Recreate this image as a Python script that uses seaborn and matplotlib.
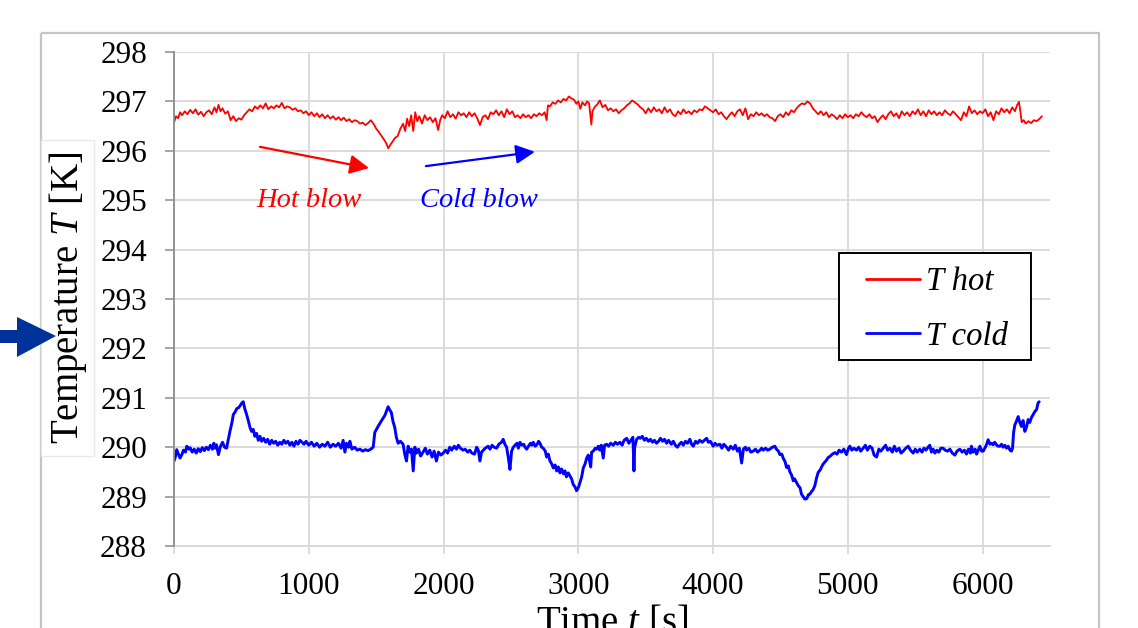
import matplotlib
matplotlib.use("Agg")
import matplotlib.pyplot as plt
import matplotlib.transforms as mtransforms
from matplotlib.patches import Rectangle, Polygon
from matplotlib.font_manager import FontProperties
import numpy as np
import pandas as pd
import seaborn as sns

# ---------------------------------------------------------------- data
hot_time = [
    0, 15, 30, 45, 60, 80, 100, 120, 140, 160, 180, 200, 220, 240, 260, 280, 300, 315, 330, 345,
    360, 380, 400, 420, 440, 460, 480, 500, 520, 540, 560, 580, 600, 620, 640, 660, 680, 700, 720, 740,
    760, 780, 800, 820, 840, 860, 880, 900, 920, 940, 960, 980, 1000, 1020, 1040, 1060, 1080, 1100, 1120, 1140,
    1160, 1180, 1200, 1220, 1240, 1260, 1280, 1300, 1320, 1340, 1360, 1380, 1400, 1420, 1440, 1460, 1480, 1500, 1520, 1540,
    1560, 1575, 1590, 1605, 1620, 1640, 1660, 1680, 1700, 1715, 1730, 1745, 1760, 1775, 1790, 1805, 1820, 1840, 1860, 1880,
    1900, 1920, 1940, 1960, 1975, 1990, 2010, 2030, 2050, 2070, 2090, 2110, 2130, 2150, 2170, 2190, 2210, 2230, 2250, 2270,
    2290, 2310, 2330, 2350, 2370, 2390, 2410, 2430, 2450, 2470, 2490, 2510, 2530, 2550, 2570, 2590, 2610, 2630, 2650, 2670,
    2690, 2710, 2730, 2750, 2765, 2775, 2790, 2810, 2830, 2850, 2870, 2890, 2910, 2930, 2950, 2970, 2985, 3000, 3015, 3030,
    3050, 3065, 3080, 3090, 3097, 3105, 3120, 3140, 3160, 3180, 3200, 3220, 3240, 3260, 3280, 3300, 3320, 3340, 3360, 3380,
    3400, 3420, 3440, 3460, 3480, 3500, 3520, 3540, 3560, 3580, 3600, 3620, 3640, 3660, 3680, 3700, 3720, 3740, 3760, 3780,
    3800, 3820, 3840, 3860, 3880, 3900, 3920, 3940, 3960, 3980, 4000, 4020, 4040, 4060, 4080, 4100, 4120, 4140, 4160, 4180,
    4200, 4220, 4240, 4260, 4280, 4300, 4320, 4340, 4360, 4380, 4400, 4420, 4440, 4460, 4480, 4500, 4520, 4540, 4560, 4580,
    4600, 4620, 4640, 4660, 4680, 4700, 4720, 4740, 4760, 4780, 4800, 4820, 4840, 4860, 4880, 4900, 4920, 4940, 4960, 4980,
    5000, 5020, 5040, 5060, 5080, 5100, 5120, 5140, 5160, 5180, 5200, 5220, 5240, 5260, 5280, 5300, 5320, 5340, 5360, 5380,
    5400, 5420, 5440, 5460, 5480, 5500, 5520, 5540, 5560, 5580, 5600, 5620, 5640, 5660, 5680, 5700, 5720, 5740, 5760, 5780,
    5800, 5820, 5840, 5860, 5880, 5900, 5920, 5940, 5960, 5980, 6000, 6020, 6040, 6060, 6080, 6100, 6120, 6140, 6160, 6180,
    6200, 6220, 6240, 6255, 6270, 6280, 6290, 6305, 6320, 6340, 6360, 6380, 6400, 6420, 6440,
]
hot_temp = [
    296.57, 296.70, 296.66, 296.78, 296.72, 296.80, 296.74, 296.83, 296.76, 296.84, 296.73, 296.79, 296.70, 296.78, 296.82, 296.74, 296.88, 296.78, 296.93, 296.80,
    296.86, 296.75, 296.80, 296.62, 296.70, 296.60, 296.66, 296.63, 296.72, 296.78, 296.84, 296.80, 296.90, 296.85, 296.92, 296.86, 296.96, 296.84, 296.90, 296.86,
    296.92, 296.88, 296.97, 296.86, 296.90, 296.88, 296.83, 296.86, 296.80, 296.82, 296.76, 296.80, 296.72, 296.78, 296.70, 296.76, 296.68, 296.74, 296.66, 296.72,
    296.65, 296.70, 296.63, 296.68, 296.62, 296.67, 296.60, 296.64, 296.58, 296.62, 296.60, 296.55, 296.57, 296.52, 296.56, 296.62, 296.55, 296.45, 296.38, 296.30,
    296.22, 296.15, 296.05, 296.12, 296.18, 296.26, 296.30, 296.45, 296.55, 296.40, 296.65, 296.50, 296.72, 296.40, 296.78, 296.60, 296.70, 296.55, 296.72, 296.62,
    296.68, 296.58, 296.66, 296.42, 296.62, 296.72, 296.66, 296.80, 296.68, 296.74, 296.65, 296.78, 296.72, 296.76, 296.68, 296.78, 296.70, 296.76, 296.66, 296.52,
    296.68, 296.72, 296.64, 296.78, 296.74, 296.82, 296.72, 296.80, 296.68, 296.84, 296.74, 296.80, 296.68, 296.72, 296.66, 296.74, 296.68, 296.72, 296.66, 296.74,
    296.70, 296.76, 296.72, 296.78, 296.62, 296.92, 296.90, 296.98, 296.95, 297.02, 296.98, 297.05, 297.02, 297.10, 297.06, 297.03, 296.95, 297.00, 296.85, 296.98,
    296.92, 297.00, 296.96, 296.70, 296.53, 296.80, 296.88, 296.94, 297.02, 296.88, 296.93, 296.82, 296.86, 296.80, 296.84, 296.76, 296.82, 296.86, 296.92, 296.96,
    297.02, 296.98, 296.94, 296.88, 296.84, 296.76, 296.86, 296.78, 296.88, 296.80, 296.84, 296.76, 296.88, 296.78, 296.84, 296.74, 296.70, 296.80, 296.74, 296.84,
    296.76, 296.80, 296.74, 296.82, 296.78, 296.84, 296.82, 296.90, 296.86, 296.82, 296.78, 296.84, 296.74, 296.78, 296.70, 296.64, 296.72, 296.78, 296.70, 296.80,
    296.84, 296.72, 296.86, 296.64, 296.74, 296.70, 296.78, 296.72, 296.76, 296.70, 296.74, 296.68, 296.66, 296.60, 296.70, 296.74, 296.68, 296.78, 296.72, 296.82,
    296.78, 296.86, 296.92, 296.96, 296.94, 297.00, 296.96, 296.86, 296.80, 296.74, 296.80, 296.72, 296.78, 296.68, 296.74, 296.70, 296.64, 296.72, 296.66, 296.74,
    296.68, 296.72, 296.66, 296.74, 296.70, 296.78, 296.72, 296.68, 296.74, 296.66, 296.70, 296.58, 296.66, 296.72, 296.64, 296.74, 296.80, 296.70, 296.76, 296.66,
    296.80, 296.72, 296.78, 296.70, 296.80, 296.74, 296.84, 296.72, 296.80, 296.70, 296.82, 296.74, 296.80, 296.72, 296.78, 296.72, 296.82, 296.76, 296.72, 296.80,
    296.74, 296.68, 296.62, 296.78, 296.70, 296.90, 296.76, 296.82, 296.74, 296.80, 296.76, 296.84, 296.70, 296.78, 296.62, 296.80, 296.74, 296.86, 296.78, 296.84,
    296.76, 296.88, 296.80, 296.92, 296.99, 296.80, 296.58, 296.62, 296.55, 296.60, 296.56, 296.62, 296.60, 296.64, 296.70,
]

cold_time = [
    0, 10, 20, 30, 45, 60, 70, 85, 95, 110, 120, 135, 150, 165, 180, 195, 210, 225, 240, 255,
    270, 285, 295, 305, 315, 330, 345, 360, 375, 390, 400, 415, 430, 440, 455, 465, 480, 495, 505, 514,
    525, 539, 550, 564, 575, 588, 600, 613, 625, 638, 650, 665, 680, 695, 710, 725, 740, 755, 770, 785,
    800, 815, 830, 845, 860, 875, 890, 905, 920, 935, 950, 965, 980, 1000, 1020, 1040, 1060, 1080, 1100, 1120,
    1140, 1160, 1180, 1200, 1220, 1240, 1255, 1268, 1280, 1295, 1305, 1320, 1340, 1360, 1380, 1400, 1420, 1440, 1460, 1478,
    1490, 1510, 1527, 1545, 1564, 1578, 1589, 1600, 1613, 1625, 1638, 1650, 1663, 1680, 1700, 1712, 1725, 1737, 1750, 1762,
    1775, 1787, 1800, 1815, 1830, 1848, 1865, 1880, 1898, 1915, 1930, 1947, 1962, 1980, 1997, 2015, 2030, 2046, 2060, 2080,
    2096, 2110, 2125, 2145, 2160, 2180, 2195, 2210, 2230, 2246, 2258, 2270, 2282, 2295, 2310, 2330, 2345, 2360, 2375, 2394,
    2410, 2430, 2443, 2455, 2468, 2480, 2493, 2505, 2518, 2530, 2545, 2555, 2567, 2580, 2595, 2605, 2617, 2630, 2645, 2655,
    2666, 2680, 2695, 2705, 2716, 2728, 2740, 2755, 2765, 2777, 2790, 2803, 2814, 2828, 2840, 2852, 2864, 2876, 2890, 2901,
    2912, 2925, 2938, 2950, 2963, 2975, 2987, 3000, 3012, 3025, 3037, 3050, 3062, 3074, 3085, 3092, 3099, 3111, 3125, 3136,
    3148, 3160, 3170, 3185, 3195, 3210, 3225, 3240, 3260, 3275, 3290, 3309, 3325, 3340, 3359, 3375, 3390, 3405, 3410, 3413,
    3418, 3433, 3448, 3460, 3475, 3490, 3505, 3520, 3535, 3550, 3565, 3580, 3595, 3610, 3625, 3640, 3655, 3670, 3690, 3705,
    3720, 3735, 3750, 3765, 3779, 3795, 3810, 3828, 3840, 3853, 3870, 3885, 3900, 3920, 3935, 3952, 3965, 3980, 4001, 4015,
    4030, 4051, 4065, 4080, 4100, 4115, 4130, 4150, 4165, 4180, 4195, 4212, 4225, 4240, 4249, 4265, 4280, 4298, 4315, 4330,
    4348, 4360, 4372, 4390, 4405, 4421, 4440, 4458, 4470, 4485, 4496, 4510, 4520, 4535, 4545, 4558, 4570, 4582, 4595, 4605,
    4620, 4632, 4645, 4656, 4668, 4681, 4695, 4708, 4718, 4730, 4742, 4755, 4768, 4780, 4795, 4805, 4817, 4830, 4842, 4854,
    4870, 4885, 4904, 4920, 4935, 4953, 4970, 4990, 5005, 5015, 5030, 5045, 5064, 5080, 5095, 5114, 5130, 5145, 5163, 5180,
    5195, 5213, 5230, 5245, 5262, 5280, 5295, 5312, 5330, 5345, 5361, 5380, 5395, 5411, 5430, 5448, 5465, 5485, 5500, 5515,
    5534, 5550, 5565, 5580, 5595, 5608, 5620, 5633, 5646, 5660, 5675, 5690, 5707, 5722, 5740, 5757, 5775, 5794, 5810, 5831,
    5848, 5865, 5880, 5895, 5910, 5917, 5930, 5945, 5955, 5968, 5980, 5992, 6004, 6020, 6030, 6041, 6055, 6066, 6078, 6090,
    6105, 6116, 6128, 6140, 6152, 6165, 6177, 6190, 6203, 6214, 6222, 6230, 6239, 6250, 6264, 6276, 6288, 6300, 6313, 6325,
    6338, 6350, 6362, 6375, 6387, 6400, 6412, 6420,
]
cold_temp = [
    289.72, 289.80, 289.95, 289.88, 289.78, 289.86, 289.94, 289.90, 290.02, 289.96, 289.99, 289.90, 289.96, 289.88, 289.97, 289.91, 289.99, 289.93, 290.00, 289.95,
    290.04, 289.96, 290.08, 289.98, 290.05, 289.85, 290.02, 290.10, 290.00, 289.98, 290.12, 290.32, 290.50, 290.66, 290.72, 290.78, 290.80, 290.86, 290.90, 290.92,
    290.78, 290.66, 290.55, 290.40, 290.32, 290.36, 290.22, 290.28, 290.14, 290.22, 290.12, 290.18, 290.10, 290.16, 290.06, 290.14, 290.08, 290.12, 290.04, 290.10,
    290.06, 290.14, 290.08, 290.12, 290.04, 290.10, 290.02, 290.12, 290.06, 290.14, 290.10, 290.06, 290.12, 290.04, 290.10, 290.02, 290.08, 290.00, 290.06, 290.02,
    290.10, 290.00, 290.06, 290.02, 290.08, 289.98, 290.14, 289.90, 290.08, 290.00, 290.12, 289.96, 290.00, 289.94, 289.96, 289.92, 289.95, 289.93, 289.96, 290.00,
    290.30, 290.40, 290.48, 290.56, 290.64, 290.74, 290.82, 290.76, 290.70, 290.52, 290.40, 290.20, 290.08, 290.12, 290.06, 289.86, 289.72, 290.02, 289.90, 289.96,
    289.52, 290.00, 289.88, 289.96, 289.82, 289.90, 289.98, 289.86, 289.94, 289.80, 289.92, 289.72, 289.90, 289.84, 289.88, 289.94, 289.88, 290.00, 289.94, 290.02,
    289.96, 290.04, 289.98, 289.94, 289.96, 289.90, 289.94, 289.88, 289.86, 290.00, 289.94, 289.72, 289.90, 289.94, 289.98, 290.02, 289.96, 290.04, 290.00, 289.98,
    290.06, 290.10, 290.16, 290.06, 290.00, 289.80, 289.55, 289.92, 290.00, 290.04, 290.08, 289.98, 290.10, 290.04, 290.06, 290.00, 289.96, 290.02, 290.08, 290.04,
    290.10, 290.02, 290.06, 290.12, 290.08, 290.00, 289.98, 289.92, 289.80, 289.86, 289.72, 289.66, 289.58, 289.64, 289.52, 289.60, 289.48, 289.56, 289.46, 289.52,
    289.40, 289.48, 289.42, 289.36, 289.24, 289.20, 289.12, 289.18, 289.28, 289.40, 289.58, 289.66, 289.78, 289.84, 289.70, 289.60, 289.90, 289.92, 289.98, 289.96,
    290.02, 289.94, 290.04, 289.78, 290.04, 290.06, 290.02, 290.08, 290.04, 290.10, 290.06, 290.10, 290.04, 290.14, 290.18, 290.08, 290.14, 290.20, 289.82, 289.52,
    290.00, 290.16, 290.20, 290.18, 290.22, 290.14, 290.18, 290.12, 290.16, 290.10, 290.14, 290.08, 290.12, 290.18, 290.12, 290.16, 290.08, 290.14, 290.06, 290.12,
    290.04, 290.00, 290.06, 290.10, 290.04, 290.12, 290.08, 290.16, 290.06, 290.02, 290.12, 290.08, 290.14, 290.10, 290.14, 290.18, 290.10, 290.12, 290.02, 290.08,
    290.04, 290.06, 289.98, 290.06, 290.00, 289.94, 290.02, 289.96, 290.04, 289.92, 289.98, 289.68, 289.96, 290.00, 289.94, 289.98, 289.90, 289.92, 289.96, 289.90,
    289.94, 289.98, 289.94, 289.98, 289.94, 289.96, 290.00, 290.02, 289.96, 289.92, 289.85, 289.86, 289.78, 289.70, 289.59, 289.62, 289.50, 289.44, 289.32, 289.36,
    289.28, 289.22, 289.18, 289.05, 289.00, 288.95, 288.96, 289.04, 289.05, 289.10, 289.14, 289.22, 289.38, 289.49, 289.54, 289.60, 289.66, 289.70, 289.74, 289.79,
    289.82, 289.86, 289.89, 289.86, 289.94, 289.90, 289.96, 289.85, 289.98, 290.02, 289.94, 289.98, 289.94, 290.00, 289.92, 289.98, 290.04, 289.94, 290.02, 289.98,
    289.84, 289.80, 289.96, 289.92, 289.98, 290.04, 289.94, 289.98, 289.90, 290.02, 289.92, 289.98, 289.88, 289.92, 289.98, 290.02, 289.94, 289.88, 289.96, 289.90,
    289.96, 289.90, 289.98, 289.94, 290.00, 290.04, 289.90, 289.96, 289.88, 289.94, 289.90, 289.98, 289.98, 289.94, 289.92, 289.96, 289.88, 289.84, 289.92, 289.96,
    289.90, 289.94, 289.86, 289.96, 289.88, 290.02, 289.90, 289.96, 289.86, 289.94, 290.02, 289.92, 289.92, 290.00, 290.06, 290.15, 290.06, 290.08, 290.05, 290.10,
    290.04, 290.02, 290.02, 290.06, 290.00, 290.04, 289.98, 290.02, 289.94, 289.92, 289.98, 290.30, 290.45, 290.52, 290.62, 290.50, 290.42, 290.54, 290.32, 290.40,
    290.56, 290.50, 290.60, 290.66, 290.72, 290.76, 290.90, 290.92,
]

series_names = ["T hot", "T cold"]
y_ticks = [288, 289, 290, 291, 292, 293, 294, 295, 296, 297, 298]
x_ticks = [0, 1000, 2000, 3000, 4000, 5000, 6000]

# ---------------------------------------------------------------- style
sns.set_theme(style="whitegrid")
plt.rcParams["font.family"] = ["Liberation Serif", "DejaVu Serif"]
plt.rcParams["mathtext.fontset"] = "custom"
plt.rcParams["mathtext.rm"] = "Liberation Serif"
plt.rcParams["mathtext.it"] = "Liberation Serif:italic"

W, H = 1138, 628
fig = plt.figure(figsize=(W / 100, H / 100), dpi=100)
fig.patch.set_facecolor("white")

# pixel-space transform (origin top-left) for the decorations around the axes
px = mtransforms.Affine2D().scale(1.0, -1.0).translate(0, H).scale(1.0 / W, 1.0 / H) + fig.transFigure

ax_left, ax_right, ax_top, ax_bottom = 174, 1050, 52, 546
ax = fig.add_axes([ax_left / W, 1 - ax_bottom / H, (ax_right - ax_left) / W, (ax_bottom - ax_top) / H])
ax.set_facecolor("white")

df_hot = pd.DataFrame({"t": hot_time, "T": hot_temp})
df_cold = pd.DataFrame({"t": cold_time, "T": cold_temp})
sns.lineplot(data=df_hot, x="t", y="T", ax=ax, color="#ff0000", lw=1.3,
             estimator=None, sort=False, label=series_names[0])
sns.lineplot(data=df_cold, x="t", y="T", ax=ax, color="#0000ff", lw=2.1,
             estimator=None, sort=False, label=series_names[1])

ax.set_xlim(0, 6500)
ax.set_ylim(288, 298)
ax.set_xticks(x_ticks)
ax.set_yticks(y_ticks)
ax.set_xticklabels([str(v) for v in x_ticks], fontsize=22.5)
ax.set_yticklabels([str(v) for v in y_ticks], fontsize=22.5)

grid_c = "#d9d9d9"
ax.grid(True, color=grid_c, lw=1.3)
for side in ("top", "right"):
    ax.spines[side].set_visible(False)
ax.spines["left"].set_color("#8c8c8c")
ax.spines["left"].set_linewidth(1.3)
ax.spines["bottom"].set_color(grid_c)
ax.spines["bottom"].set_linewidth(1.3)
ax.spines["left"].set_zorder(3)
ax.tick_params(axis="y", which="major", left=True, length=6.5, width=1.1,
               color="#8c8c8c", pad=13, labelcolor="black")
ax.tick_params(axis="x", which="major", bottom=True, length=6, width=1.3,
               color=grid_c, pad=13, labelcolor="black")

# axis titles
ax.set_xlabel("Time $t$ [s]", fontsize=28, color="black")
ax.xaxis.set_label_coords(0.5, -(604 - ax_bottom) / (ax_bottom - ax_top))
ax.set_ylabel("")
fig.text(68, 298, "Temperature $T$ [K]", transform=px, rotation=90,
         ha="center", va="center", fontsize=28, color="black", zorder=5)
fig.add_artist(Rectangle((41, 140), 53, 316, transform=px, facecolor="white",
                         edgecolor="#e8e8e8", lw=1.0, zorder=4))

# outer frame
fig.add_artist(Rectangle((41, 33), 1099 - 41, 700, transform=px, facecolor="none",
                         edgecolor="#c4c4c4", lw=1.6, zorder=1, clip_on=False))

# pointer arrow on the left
fig.add_artist(Polygon([(-2, 330), (17, 330), (17, 317), (56, 336), (17, 357), (17, 343), (-2, 343)],
                       closed=True, transform=px, facecolor="#003399", edgecolor="none", zorder=6))

# blow annotations
arrow_style = "-|>,head_length=0.4,head_width=0.2"
ax.annotate("", xy=(1447, 295.65), xytext=(638, 296.08),
            arrowprops=dict(arrowstyle=arrow_style, color="#ff0000", lw=1.6,
                            mutation_scale=29, shrinkA=0, shrinkB=0))
ax.annotate("", xy=(2678, 295.98), xytext=(1869, 295.69),
            arrowprops=dict(arrowstyle=arrow_style, color="#0000ff", lw=1.6,
                            mutation_scale=29, shrinkA=0, shrinkB=0))
ax.text(1001, 294.86, "Hot blow", color="#ff0000", fontsize=20.5, style="italic",
        ha="center", va="baseline")
ax.text(2263, 294.86, "Cold blow", color="#0000ff", fontsize=20.5, style="italic",
        ha="center", va="baseline")

# legend: white box with a plain black frame, drawn inside the axes above the lines
legend_box = Rectangle((839, 253), 1031 - 839, 360 - 253, transform=px, facecolor="white",
                       edgecolor="black", lw=1.4, zorder=6, clip_on=False)
ax.add_artist(legend_box)
leg = ax.legend(loc="center left", bbox_to_anchor=(866, 309), bbox_transform=px,
                frameon=False, borderpad=0, borderaxespad=0, handlelength=1.65,
                handletextpad=0.2, labelspacing=0.74,
                prop=FontProperties(family="Liberation Serif", style="italic", size=23.5))
for line in leg.get_lines():
    line.set_linewidth(2.0)
for txt in leg.get_texts():
    txt.set_color("black")
leg.set_zorder(7)

fig.savefig("out.png", dpi=100, facecolor="white")
